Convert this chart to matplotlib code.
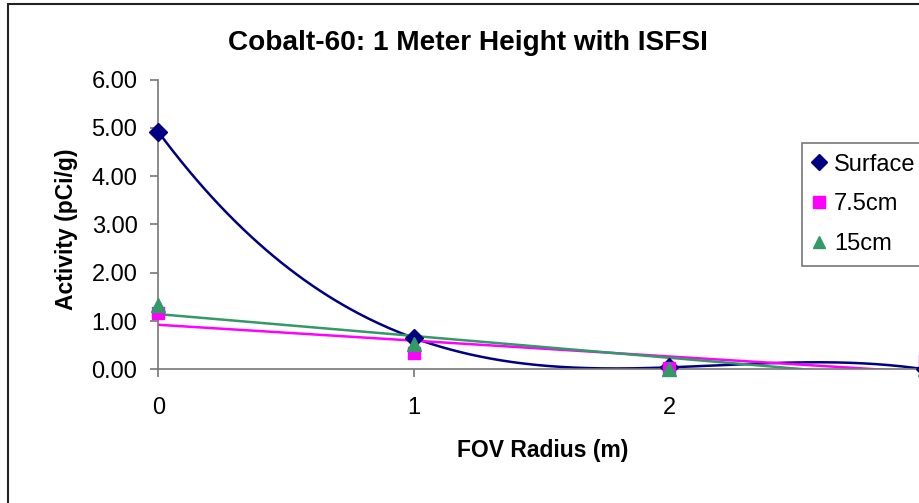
import numpy as np
import matplotlib
matplotlib.use("Agg")
import matplotlib.pyplot as plt
from matplotlib.patches import Rectangle

plt.rcParams['font.family'] = ['Liberation Sans', 'DejaVu Sans']

# FOV radius (m) and measured activity (pCi/g) per depth
radius = [0, 1, 2, 3]
surface = [4.92, 0.65, 0.04, 0.0]
cm75 = [1.17, 0.34, 0.03, 0.18]
cm15 = [1.33, 0.53, 0.0, 0.0]

series = [
    ("Surface", surface, '#000080', 'D', 9, 3),   # cubic trendline
    ("7.5cm", cm75, '#FF00FF', 's', 9, 1),        # linear trendline
    ("15cm", cm15, '#339966', '^', 10, 1),        # linear trendline
]

fig = plt.figure(figsize=(9.2, 5.03), dpi=100)
fig.patches.append(Rectangle((8 / 920, -0.1), 1.2, 1 - 3.5 / 503 + 0.1,
                             transform=fig.transFigure, fill=False,
                             edgecolor='#222222', linewidth=1.5))

ax = fig.add_axes([158.3 / 920, 133.7 / 503, 766.2 / 920, 289.6 / 503])

xs = np.linspace(0, 3, 300)
for name, vals, col, mk, ms, deg in series:
    coef = np.polyfit(radius, vals, deg)
    ax.plot(xs, np.polyval(coef, xs), color=col, linewidth=1.8, zorder=2)
for name, vals, col, mk, ms, deg in series:
    ax.plot(radius, vals, linestyle='none', marker=mk, color=col,
            markersize=ms, label=name, clip_on=False, zorder=3)

ax.set_xlim(0, 3)
ax.set_ylim(0, 6)
ax.set_xticks([0, 1, 2, 3])
ax.set_yticks(np.arange(0, 7, 1))
ax.set_yticklabels(["%.2f" % v for v in np.arange(0, 7, 1)])
for s in ['top', 'right']:
    ax.spines[s].set_visible(False)
for s in ['left', 'bottom']:
    ax.spines[s].set_color('#777777')
    ax.spines[s].set_linewidth(1.2)
ax.tick_params(axis='both', colors='#777777', labelcolor='black',
               labelsize=17, length=6, width=1.2)
ax.tick_params(axis='y', pad=9)
ax.tick_params(axis='x', pad=14)

fig.text(468 / 920, 1 - 43 / 503, "Cobalt-60: 1 Meter Height with ISFSI",
         ha='center', va='center', fontsize=20.2, fontweight='bold')
fig.text(66 / 920, 1 - 229 / 503, "Activity (pCi/g)", rotation=90,
         ha='center', va='center', fontsize=16.5, fontweight='bold')
fig.text(543 / 920, 1 - 451 / 503, "FOV Radius (m)",
         ha='center', va='center', fontsize=16.5, fontweight='bold')

leg = ax.legend(loc='upper left', bbox_to_anchor=(802 / 920, 1 - 143 / 503),
                bbox_transform=fig.transFigure, borderaxespad=0,
                fontsize=17, frameon=True,
                fancybox=False, edgecolor='#555555', handlelength=0.5,
                handletextpad=0.4, labelspacing=0.75, borderpad=0.45,
                markerscale=0.9)
leg.get_frame().set_linewidth(1.2)

fig.savefig("out.png", dpi=100)
